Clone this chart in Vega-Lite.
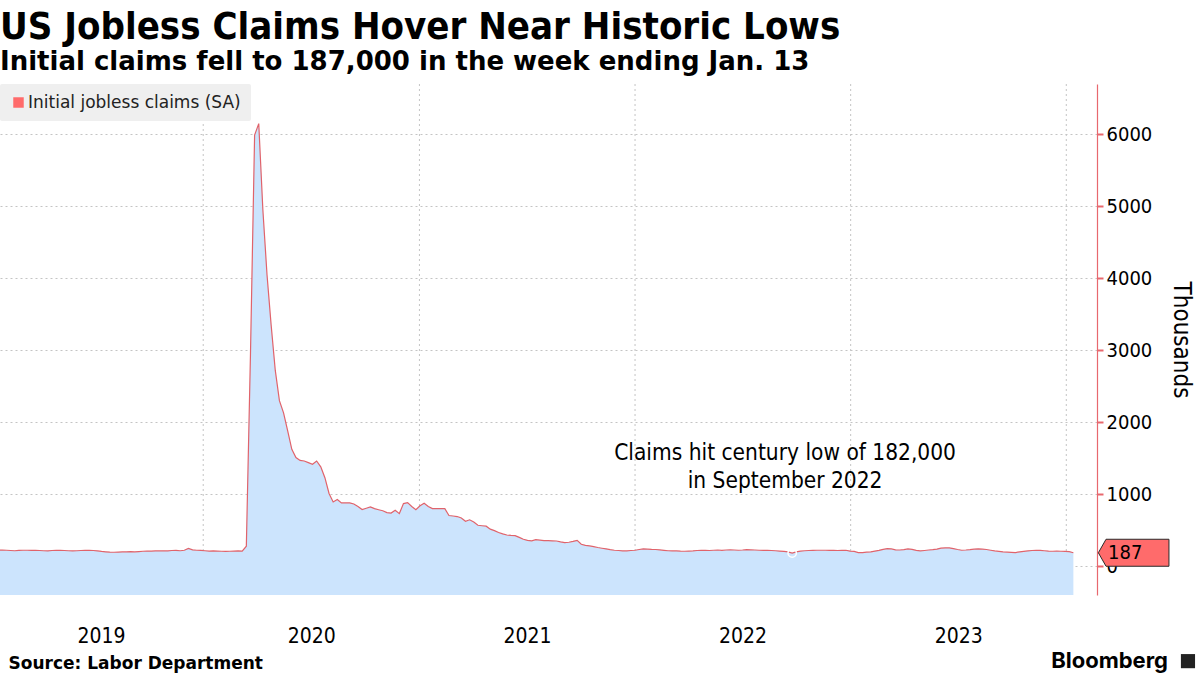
{
  "$schema": "https://vega.github.io/schema/vega-lite/v6.json",
  "width": 1097,
  "height": 511,
  "autosize": {"type": "none"},
  "padding": {"left": 0, "top": 84, "right": 103, "bottom": 80},
  "background": "#ffffff",
  "title": {
    "text": "US Jobless Claims Hover Near Historic Lows",
    "subtitle": "Initial claims fell to 187,000 in the week ending Jan. 13",
    "anchor": "start",
    "frame": "group",
    "font": "DejaVu Sans Condensed",
    "fontSize": 38,
    "fontWeight": "bold",
    "color": "#000000",
    "subtitleFont": "DejaVu Sans",
    "subtitleFontSize": 26,
    "subtitleFontWeight": "bold",
    "subtitleColor": "#000000",
    "subtitlePadding": 2,
    "offset": 9
  },
  "datasets": {
    "claims": [
      {"d":"2019-01-19","v":220},{"d":"2019-01-26","v":225},{"d":"2019-02-02","v":222},{"d":"2019-02-09","v":218},{"d":"2019-02-16","v":215},{"d":"2019-02-23","v":220},{"d":"2019-03-02","v":222},{"d":"2019-03-09","v":222},{"d":"2019-03-16","v":220},{"d":"2019-03-23","v":222},{"d":"2019-03-30","v":218},{"d":"2019-04-06","v":215},{"d":"2019-04-13","v":212},{"d":"2019-04-20","v":218},{"d":"2019-04-27","v":222},{"d":"2019-05-04","v":220},{"d":"2019-05-11","v":218},{"d":"2019-05-18","v":215},{"d":"2019-05-25","v":213},{"d":"2019-06-01","v":215},{"d":"2019-06-08","v":218},{"d":"2019-06-15","v":220},{"d":"2019-06-22","v":222},{"d":"2019-06-29","v":218},{"d":"2019-07-06","v":212},{"d":"2019-07-13","v":205},{"d":"2019-07-20","v":200},{"d":"2019-07-27","v":196},{"d":"2019-08-03","v":194},{"d":"2019-08-10","v":196},{"d":"2019-08-17","v":198},{"d":"2019-08-24","v":200},{"d":"2019-08-31","v":202},{"d":"2019-09-07","v":198},{"d":"2019-09-14","v":204},{"d":"2019-09-21","v":208},{"d":"2019-09-28","v":210},{"d":"2019-10-05","v":210},{"d":"2019-10-12","v":212},{"d":"2019-10-19","v":213},{"d":"2019-10-26","v":215},{"d":"2019-11-02","v":213},{"d":"2019-11-09","v":218},{"d":"2019-11-16","v":220},{"d":"2019-11-23","v":215},{"d":"2019-11-30","v":222},{"d":"2019-12-07","v":248},{"d":"2019-12-14","v":228},{"d":"2019-12-21","v":222},{"d":"2019-12-28","v":220},
      {"d":"2020-01-04","v":215},{"d":"2020-01-11","v":210},{"d":"2020-01-18","v":212},{"d":"2020-01-25","v":210},{"d":"2020-02-01","v":208},{"d":"2020-02-08","v":207},{"d":"2020-02-15","v":208},{"d":"2020-02-22","v":210},{"d":"2020-02-29","v":212},{"d":"2020-03-07","v":210},{"d":"2020-03-14","v":278},{"d":"2020-03-21","v":2950},{"d":"2020-03-28","v":5990},{"d":"2020-04-04","v":6150},{"d":"2020-04-11","v":4950},{"d":"2020-04-18","v":4050},{"d":"2020-04-25","v":3350},{"d":"2020-05-02","v":2720},{"d":"2020-05-09","v":2300},{"d":"2020-05-16","v":2130},{"d":"2020-05-23","v":1880},{"d":"2020-05-30","v":1625},{"d":"2020-06-06","v":1510},{"d":"2020-06-13","v":1470},{"d":"2020-06-20","v":1462},{"d":"2020-06-27","v":1440},{"d":"2020-07-04","v":1417},{"d":"2020-07-11","v":1462},{"d":"2020-07-18","v":1380},{"d":"2020-07-25","v":1230},{"d":"2020-08-01","v":1010},{"d":"2020-08-08","v":893},{"d":"2020-08-15","v":926},{"d":"2020-08-22","v":880},{"d":"2020-08-29","v":880},{"d":"2020-09-05","v":880},{"d":"2020-09-12","v":865},{"d":"2020-09-19","v":830},{"d":"2020-09-26","v":787},{"d":"2020-10-03","v":805},{"d":"2020-10-10","v":824},{"d":"2020-10-17","v":800},{"d":"2020-10-24","v":785},{"d":"2020-10-31","v":770},{"d":"2020-11-07","v":745},{"d":"2020-11-14","v":738},{"d":"2020-11-21","v":778},{"d":"2020-11-28","v":731},{"d":"2020-12-05","v":870},{"d":"2020-12-12","v":884},{"d":"2020-12-19","v":830},{"d":"2020-12-26","v":785},
      {"d":"2021-01-02","v":840},{"d":"2021-01-09","v":875},{"d":"2021-01-16","v":830},{"d":"2021-01-23","v":800},{"d":"2021-01-30","v":800},{"d":"2021-02-06","v":800},{"d":"2021-02-13","v":800},{"d":"2021-02-20","v":705},{"d":"2021-02-27","v":698},{"d":"2021-03-06","v":690},{"d":"2021-03-13","v":670},{"d":"2021-03-20","v":625},{"d":"2021-03-27","v":645},{"d":"2021-04-03","v":615},{"d":"2021-04-10","v":569},{"d":"2021-04-17","v":562},{"d":"2021-04-24","v":556},{"d":"2021-05-01","v":515},{"d":"2021-05-08","v":495},{"d":"2021-05-15","v":468},{"d":"2021-05-22","v":450},{"d":"2021-05-29","v":434},{"d":"2021-06-05","v":428},{"d":"2021-06-12","v":425},{"d":"2021-06-19","v":400},{"d":"2021-06-26","v":375},{"d":"2021-07-03","v":360},{"d":"2021-07-10","v":352},{"d":"2021-07-17","v":368},{"d":"2021-07-24","v":362},{"d":"2021-07-31","v":356},{"d":"2021-08-07","v":355},{"d":"2021-08-14","v":353},{"d":"2021-08-21","v":350},{"d":"2021-08-28","v":338},{"d":"2021-09-04","v":329},{"d":"2021-09-11","v":333},{"d":"2021-09-18","v":345},{"d":"2021-09-25","v":360},{"d":"2021-10-02","v":305},{"d":"2021-10-09","v":290},{"d":"2021-10-16","v":282},{"d":"2021-10-23","v":272},{"d":"2021-10-30","v":260},{"d":"2021-11-06","v":250},{"d":"2021-11-13","v":241},{"d":"2021-11-20","v":230},{"d":"2021-11-27","v":222},{"d":"2021-12-04","v":218},{"d":"2021-12-11","v":214},{"d":"2021-12-18","v":213},{"d":"2021-12-25","v":218},
      {"d":"2022-01-01","v":222},{"d":"2022-01-08","v":232},{"d":"2022-01-15","v":241},{"d":"2022-01-22","v":238},{"d":"2022-01-29","v":234},{"d":"2022-02-05","v":232},{"d":"2022-02-12","v":226},{"d":"2022-02-19","v":220},{"d":"2022-02-26","v":215},{"d":"2022-03-05","v":213},{"d":"2022-03-12","v":212},{"d":"2022-03-19","v":209},{"d":"2022-03-26","v":208},{"d":"2022-04-02","v":210},{"d":"2022-04-09","v":212},{"d":"2022-04-16","v":218},{"d":"2022-04-23","v":222},{"d":"2022-04-30","v":220},{"d":"2022-05-07","v":218},{"d":"2022-05-14","v":222},{"d":"2022-05-21","v":225},{"d":"2022-05-28","v":220},{"d":"2022-06-04","v":225},{"d":"2022-06-11","v":228},{"d":"2022-06-18","v":225},{"d":"2022-06-25","v":222},{"d":"2022-07-02","v":225},{"d":"2022-07-09","v":230},{"d":"2022-07-16","v":228},{"d":"2022-07-23","v":225},{"d":"2022-07-30","v":222},{"d":"2022-08-06","v":220},{"d":"2022-08-13","v":222},{"d":"2022-08-20","v":218},{"d":"2022-08-27","v":215},{"d":"2022-09-03","v":210},{"d":"2022-09-10","v":205},{"d":"2022-09-17","v":200},{"d":"2022-09-24","v":182},{"d":"2022-10-01","v":200},{"d":"2022-10-08","v":210},{"d":"2022-10-15","v":215},{"d":"2022-10-22","v":218},{"d":"2022-10-29","v":220},{"d":"2022-11-05","v":222},{"d":"2022-11-12","v":222},{"d":"2022-11-19","v":222},{"d":"2022-11-26","v":220},{"d":"2022-12-03","v":220},{"d":"2022-12-10","v":218},{"d":"2022-12-17","v":220},{"d":"2022-12-24","v":222},{"d":"2022-12-31","v":210},
      {"d":"2023-01-07","v":205},{"d":"2023-01-14","v":190},{"d":"2023-01-21","v":188},{"d":"2023-01-28","v":195},{"d":"2023-02-04","v":200},{"d":"2023-02-11","v":210},{"d":"2023-02-18","v":220},{"d":"2023-02-25","v":235},{"d":"2023-03-04","v":245},{"d":"2023-03-11","v":240},{"d":"2023-03-18","v":228},{"d":"2023-03-25","v":225},{"d":"2023-04-01","v":230},{"d":"2023-04-08","v":240},{"d":"2023-04-15","v":235},{"d":"2023-04-22","v":220},{"d":"2023-04-29","v":212},{"d":"2023-05-06","v":218},{"d":"2023-05-13","v":225},{"d":"2023-05-20","v":230},{"d":"2023-05-27","v":238},{"d":"2023-06-03","v":250},{"d":"2023-06-10","v":256},{"d":"2023-06-17","v":255},{"d":"2023-06-24","v":245},{"d":"2023-07-01","v":232},{"d":"2023-07-08","v":222},{"d":"2023-07-15","v":225},{"d":"2023-07-22","v":230},{"d":"2023-07-29","v":238},{"d":"2023-08-05","v":241},{"d":"2023-08-12","v":238},{"d":"2023-08-19","v":232},{"d":"2023-08-26","v":222},{"d":"2023-09-02","v":212},{"d":"2023-09-09","v":205},{"d":"2023-09-16","v":199},{"d":"2023-09-23","v":195},{"d":"2023-09-30","v":192},{"d":"2023-10-07","v":190},{"d":"2023-10-14","v":198},{"d":"2023-10-21","v":205},{"d":"2023-10-28","v":212},{"d":"2023-11-04","v":218},{"d":"2023-11-11","v":222},{"d":"2023-11-18","v":220},{"d":"2023-11-25","v":215},{"d":"2023-12-02","v":210},{"d":"2023-12-09","v":208},{"d":"2023-12-16","v":210},{"d":"2023-12-23","v":208},{"d":"2023-12-30","v":205},{"d":"2024-01-06","v":203},{"d":"2024-01-13","v":187}
    ]
  },
  "layer": [
    {
      "data": {"values": [{"d":"2020-01-01"},{"d":"2021-01-01"},{"d":"2022-01-01"},{"d":"2023-01-01"},{"d":"2024-01-01"}]},
      "mark": {"type": "rule", "color": "#c4c4c4", "strokeDash": [2, 3], "strokeWidth": 1},
      "encoding": {"x": {"field": "d", "type": "temporal"}}
    },
    {
      "data": {"name": "claims"},
      "mark": {"type": "area", "color": "#cce4fd", "clip": true},
      "encoding": {
        "x": {
          "field": "d", "type": "temporal",
          "scale": {"domain": [{"year": 2019, "month": 1, "date": 22}, {"year": 2024, "month": 2, "date": 22}]},
          "axis": {
            "values": [{"year": 2019, "month": 7, "date": 12}, {"year": 2020, "month": 7, "date": 2}, {"year": 2021, "month": 7, "date": 2}, {"year": 2022, "month": 7, "date": 2}, {"year": 2023, "month": 7, "date": 2}],
            "format": "%Y",
            "grid": false, "ticks": false, "domain": false,
            "labelFont": "DejaVu Sans Condensed", "labelFontSize": 21, "labelColor": "#000000",
            "labelPadding": 30, "labelFlush": false,
            "title": "Source: Labor Department",
            "titleFont": "DejaVu Sans", "titleFontSize": 17, "titleFontWeight": "bold", "titleColor": "#000000",
            "titleAnchor": "start", "titleAlign": "left", "titleBaseline": "alphabetic",
            "titleX": 8, "titleY": 73
          }
        },
        "y": {
          "field": "v", "type": "quantitative",
          "scale": {"domain": [-400, 6700], "nice": false, "zero": false},
          "axis": {
            "orient": "right",
            "values": [0, 500, 1000, 1500, 2000, 2500, 3000, 3500, 4000, 4500, 5000, 5500, 6000, 6500],
            "labelExpr": "datum.value % 1000 === 0 ? format(datum.value, 'd') : ''",
            "grid": true, "gridDash": [2, 3], "gridColor": "#c4c4c4",
            "gridOpacity": {"condition": {"test": "datum.value % 1000 === 0", "value": 1}, "value": 0},
            "domainColor": "#e8686e", "domainWidth": 1.2,
            "tickColor": "#e8686e",
            "tickSize": {"condition": {"test": "datum.value % 1000 === 0", "value": 6}, "value": 4},
            "tickWidth": {"condition": {"test": "datum.value % 1000 === 0", "value": 2}, "value": 1},
            "labelFont": "DejaVu Sans Condensed", "labelFontSize": 20, "labelColor": "#000000",
            "labelPadding": 3,
            "title": "Thousands",
            "titleFont": "DejaVu Sans Condensed", "titleFontSize": 24, "titleFontWeight": "normal", "titleColor": "#000000",
            "titlePadding": 17
          }
        },
        "y2": {"datum": -400}
      }
    },
    {
      "data": {"name": "claims"},
      "mark": {"type": "line", "color": "#e0636b", "strokeWidth": 1.2, "clip": true},
      "encoding": {
        "x": {"field": "d", "type": "temporal"},
        "y": {"field": "v", "type": "quantitative"}
      }
    },
    {
      "data": {"values": [{"d": "2022-09-24", "v": 182}]},
      "mark": {"type": "point", "shape": "circle", "filled": false, "stroke": "#ffffff", "strokeWidth": 1.5, "size": 70, "opacity": 1},
      "encoding": {
        "x": {"field": "d", "type": "temporal"},
        "y": {"field": "v", "type": "quantitative"}
      }
    },
    {
      "data": {"values": [{}]},
      "mark": {"type": "text", "text": ["Claims hit century low of 182,000", "in September 2022"], "font": "DejaVu Sans Condensed", "fontSize": 22.5, "align": "center", "baseline": "alphabetic", "lineHeight": 28, "color": "#000000"},
      "encoding": {
        "x": {"datum": {"year": 2022, "month": 9, "date": 12}, "type": "temporal"},
        "y": {"datum": 1470, "type": "quantitative"}
      }
    },
    {
      "data": {"values": [{"series": "Initial jobless claims (SA)", "v": 187, "label": "187"}]},
      "mark": {"type": "point", "shape": "M0.1,0L0.67,-1L5.33,-1L5.33,1L0.67,1Z", "size": 729, "filled": true, "opacity": 1, "stroke": "#2a2a2a", "strokeWidth": 1},
      "encoding": {
        "x": {"datum": {"year": 2024, "month": 2, "date": 22}, "type": "temporal"},
        "y": {"field": "v", "type": "quantitative"},
        "fill": {
          "field": "series", "type": "nominal",
          "scale": {"range": ["#ff6b6b"]},
          "legend": {
            "title": null, "orient": "none", "legendX": 0, "legendY": 0,
            "fillColor": "#efefef", "padding": 10, "cornerRadius": 2,
            "symbolType": "square", "symbolSize": 110, "symbolStrokeWidth": 0, "symbolOpacity": 1,
            "labelFont": "DejaVu Sans", "labelFontSize": 17, "labelColor": "#222222", "labelOffset": 1, "labelLimit": 400
          }
        }
      }
    },
    {
      "data": {"values": [{"v": 187, "label": "187"}]},
      "mark": {"type": "text", "align": "left", "baseline": "middle", "dx": 11, "font": "DejaVu Sans Condensed", "fontSize": 20, "color": "#000000"},
      "encoding": {
        "x": {"datum": {"year": 2024, "month": 2, "date": 22}, "type": "temporal"},
        "y": {"field": "v", "type": "quantitative"},
        "text": {"field": "label"}
      }
    },
    {
      "data": {"values": [{}]},
      "mark": {"type": "text", "text": "Bloomberg", "font": "Inter", "fontWeight": 700, "fontSize": 22, "align": "right", "baseline": "alphabetic", "dx": 71, "color": "#000000"},
      "encoding": {
        "x": {"datum": {"year": 2024, "month": 2, "date": 22}, "type": "temporal"},
        "y": {"datum": -1417, "type": "quantitative"}
      }
    },
    {
      "data": {"values": [{}]},
      "mark": {"type": "point", "shape": "square", "filled": true, "color": "#222222", "size": 200, "opacity": 1},
      "encoding": {
        "x": {"datum": {"year": 2024, "month": 7, "date": 25}, "type": "temporal"},
        "y": {"datum": -1319, "type": "quantitative"}
      }
    }
  ],
  "config": {
    "view": {"stroke": null},
    "font": "DejaVu Sans Condensed"
  }
}
